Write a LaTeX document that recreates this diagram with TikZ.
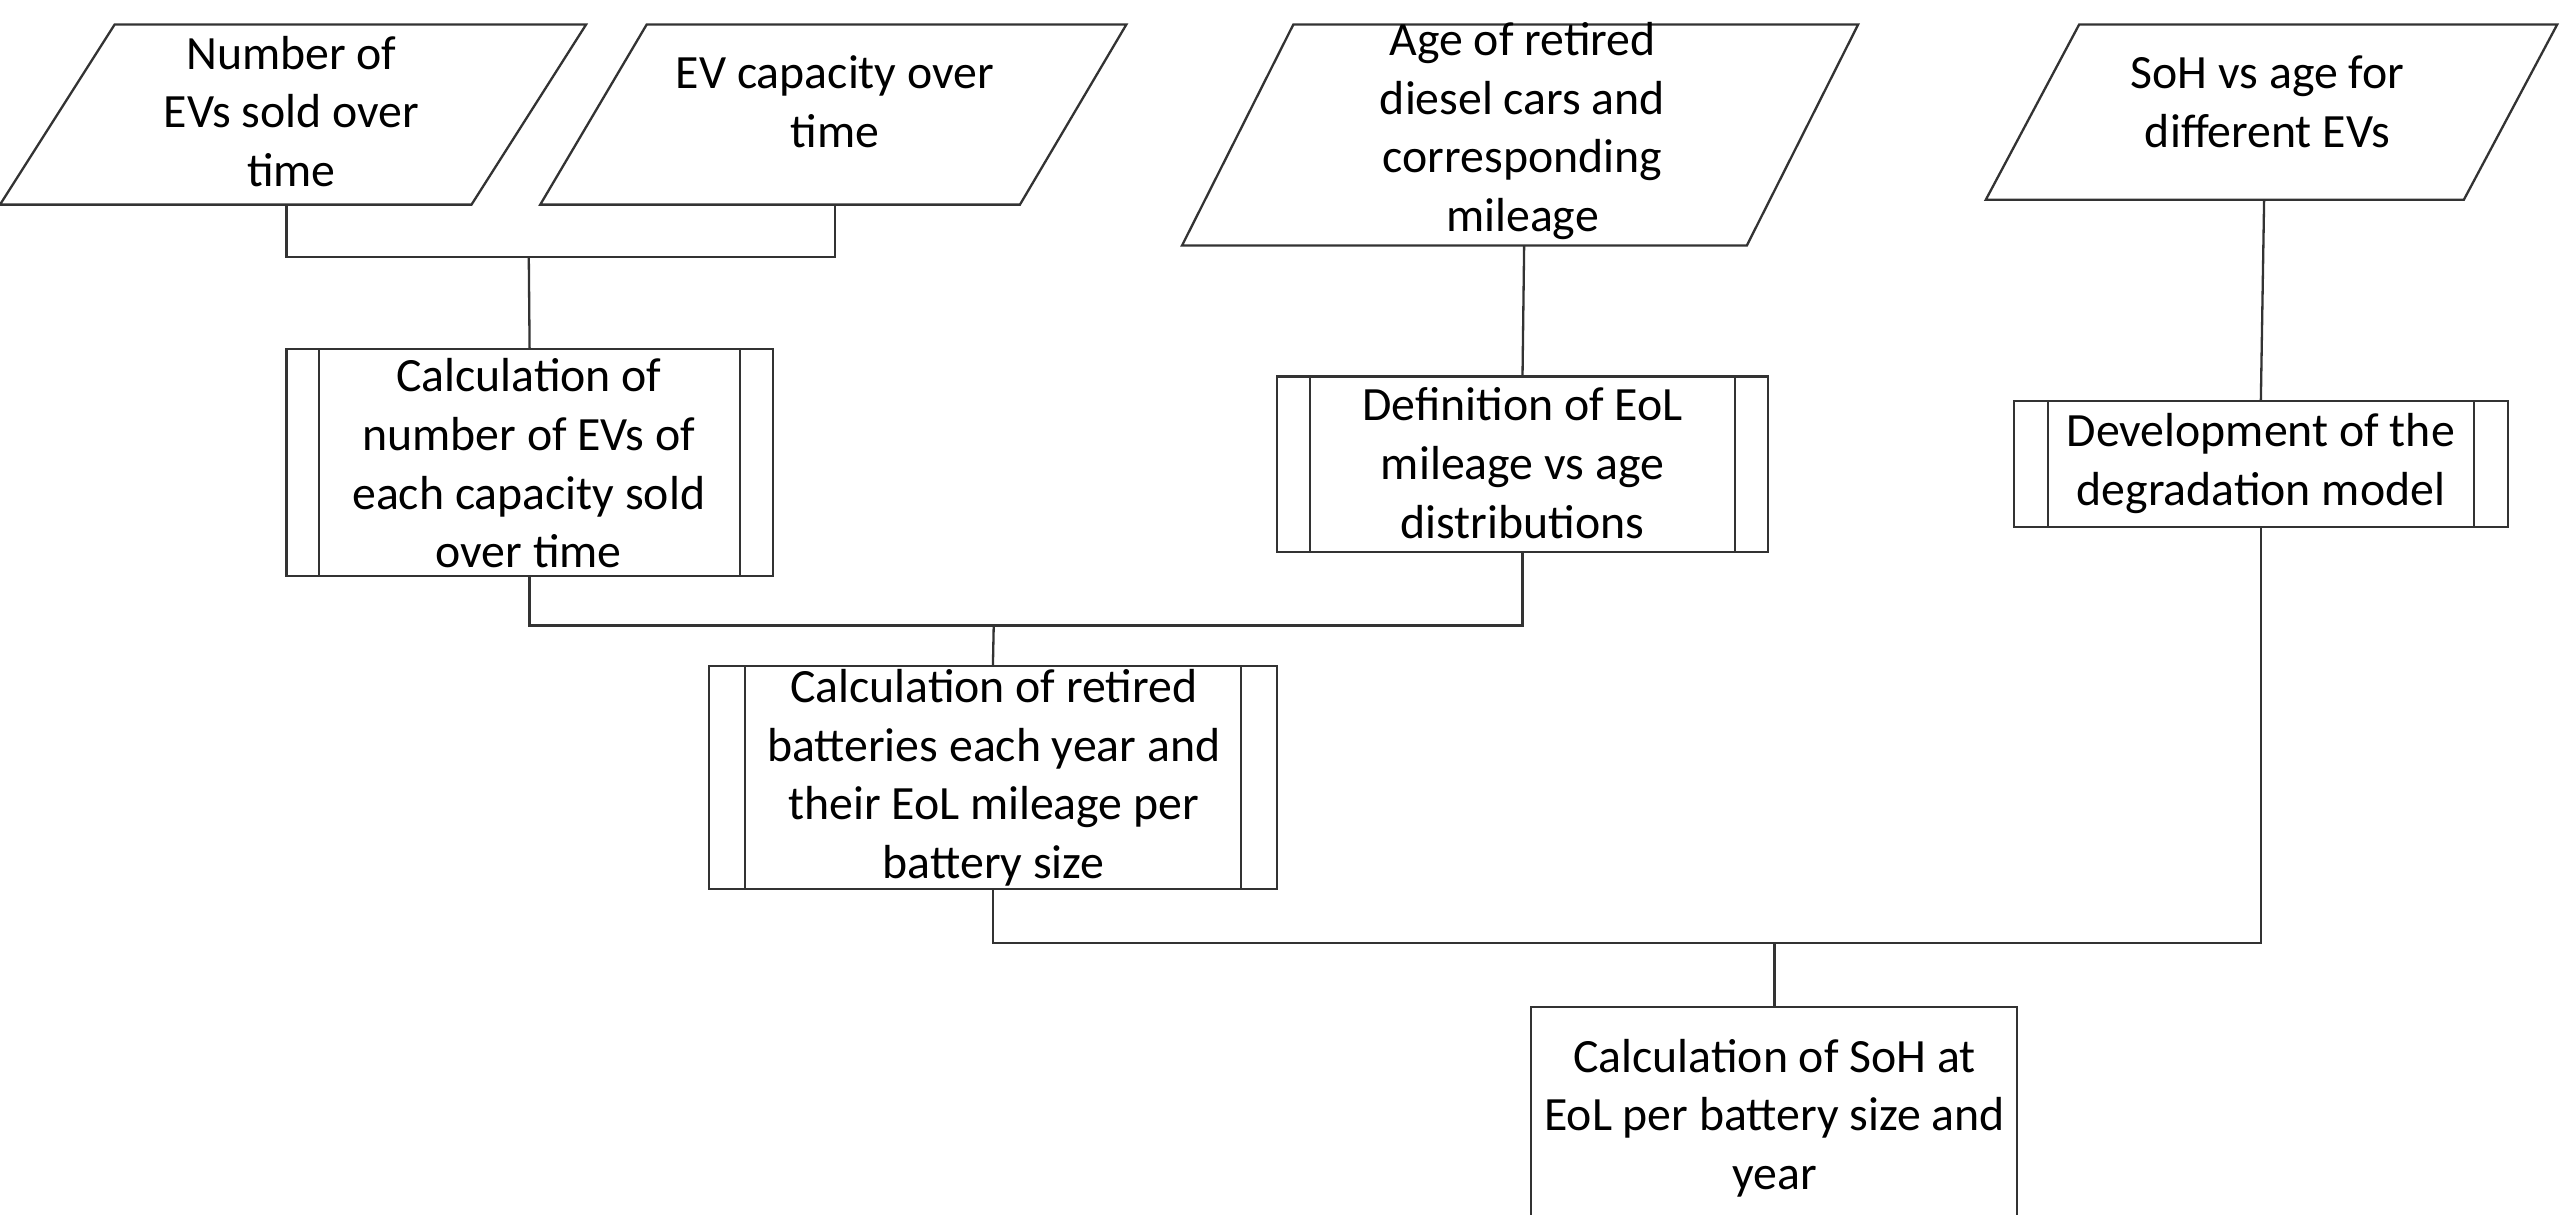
\documentclass[tikz,border=0pt]{standalone}
\usepackage{fontspec}
\setmainfont{Carlito}
\begin{document}
\begin{tikzpicture}[x=0.01cm,y=-0.01cm,line width=0.4pt,
  txt/.style={align=center,font=\fontsize{8.3}{10.2}\selectfont},
  ln/.style={draw=black!80}]
\useasboundingbox (0,0) rectangle (1568,742);
\newcommand{\para}[6]{% name, xtl, xtr, ytop, xbl, ybot
  \draw[ln] (#2,#4) -- (#3,#4) -- ({#3-(#2-#5)},#6) -- (#5,#6) -- cycle;}
\newcommand{\pbox}[6]{% name x1 x2 y1 y2 inset
  \draw[ln] (#2,#4) rectangle (#3,#5);
  \draw[ln] ({#2+#6},#4) -- ({#2+#6},#5) ({#3-#6},#4) -- ({#3-#6},#5);
  \coordinate (#1t) at ({(#2+#3)/2},#4);
  \coordinate (#1b) at ({(#2+#3)/2},#5);}
% inputs
\para{p1}{70}{358}{15}{0}{125}
\node[txt] (p1) at (178,68) {Number of\\EVs sold over\\time};
\coordinate (p1b) at (175,125);
\para{p2}{395}{688}{15}{330}{125}
\node[txt] (p2) at (510,62) {EV capacity over\\time};
\coordinate (p2b) at (510,125);
\para{p3}{790}{1135}{15}{722}{150}
\node[txt] (p3) at (930,80) {Age of retired\\diesel cars and\\corresponding\\mileage};
\coordinate (p3b) at (931,150);
\para{p4}{1270}{1562}{15}{1213}{122}
\node[txt] (p4) at (1385,62) {SoH vs age for\\different EVs};
\coordinate (p4b) at (1383,122);
% processes
\pbox{b1}{175}{472}{213}{352}{20}
\node[txt] (b1) at (323,283) {Calculation of\\number of EVs of\\each capacity sold\\over time};
\pbox{b2}{780}{1080}{230}{337}{20}
\node[txt] (b2) at (930,283) {Definition of EoL\\mileage vs age\\distributions};
\pbox{b3}{1230}{1532}{245}{322}{21}
\node[txt] (b3) at (1381,283) {Development of the\\degradation model};
\pbox{b4}{433}{780}{407}{543}{22}
\node[txt] (b4) at (607,475) {Calculation of retired\\batteries each year and\\their EoL mileage per\\battery size};
\draw[ln] (935,615) rectangle (1232,752);
\coordinate (b5t) at (1084,615);
\node[txt] (b5) at (1084,683) {Calculation of SoH at\\EoL per battery size and\\year};
% connectors
\coordinate (j1) at (323,157);
\draw[ln] (p1b) |- (j1) -| (p2b);
\draw[ln] (j1) -- (b1t);
\draw[ln] (p3b) -- (b2t);
\draw[ln] (p4b) -- (b3t);
\coordinate (j2) at (607,382);
\draw[ln] (b1b) |- (j2) -| (b2b);
\draw[ln] (j2) -- (b4t);
\coordinate (j3) at (1084,576);
\draw[ln] (b4b) |- (j3) -| (b3b);
\draw[ln] (j3) -- (b5t);
\end{tikzpicture}
\end{document}
